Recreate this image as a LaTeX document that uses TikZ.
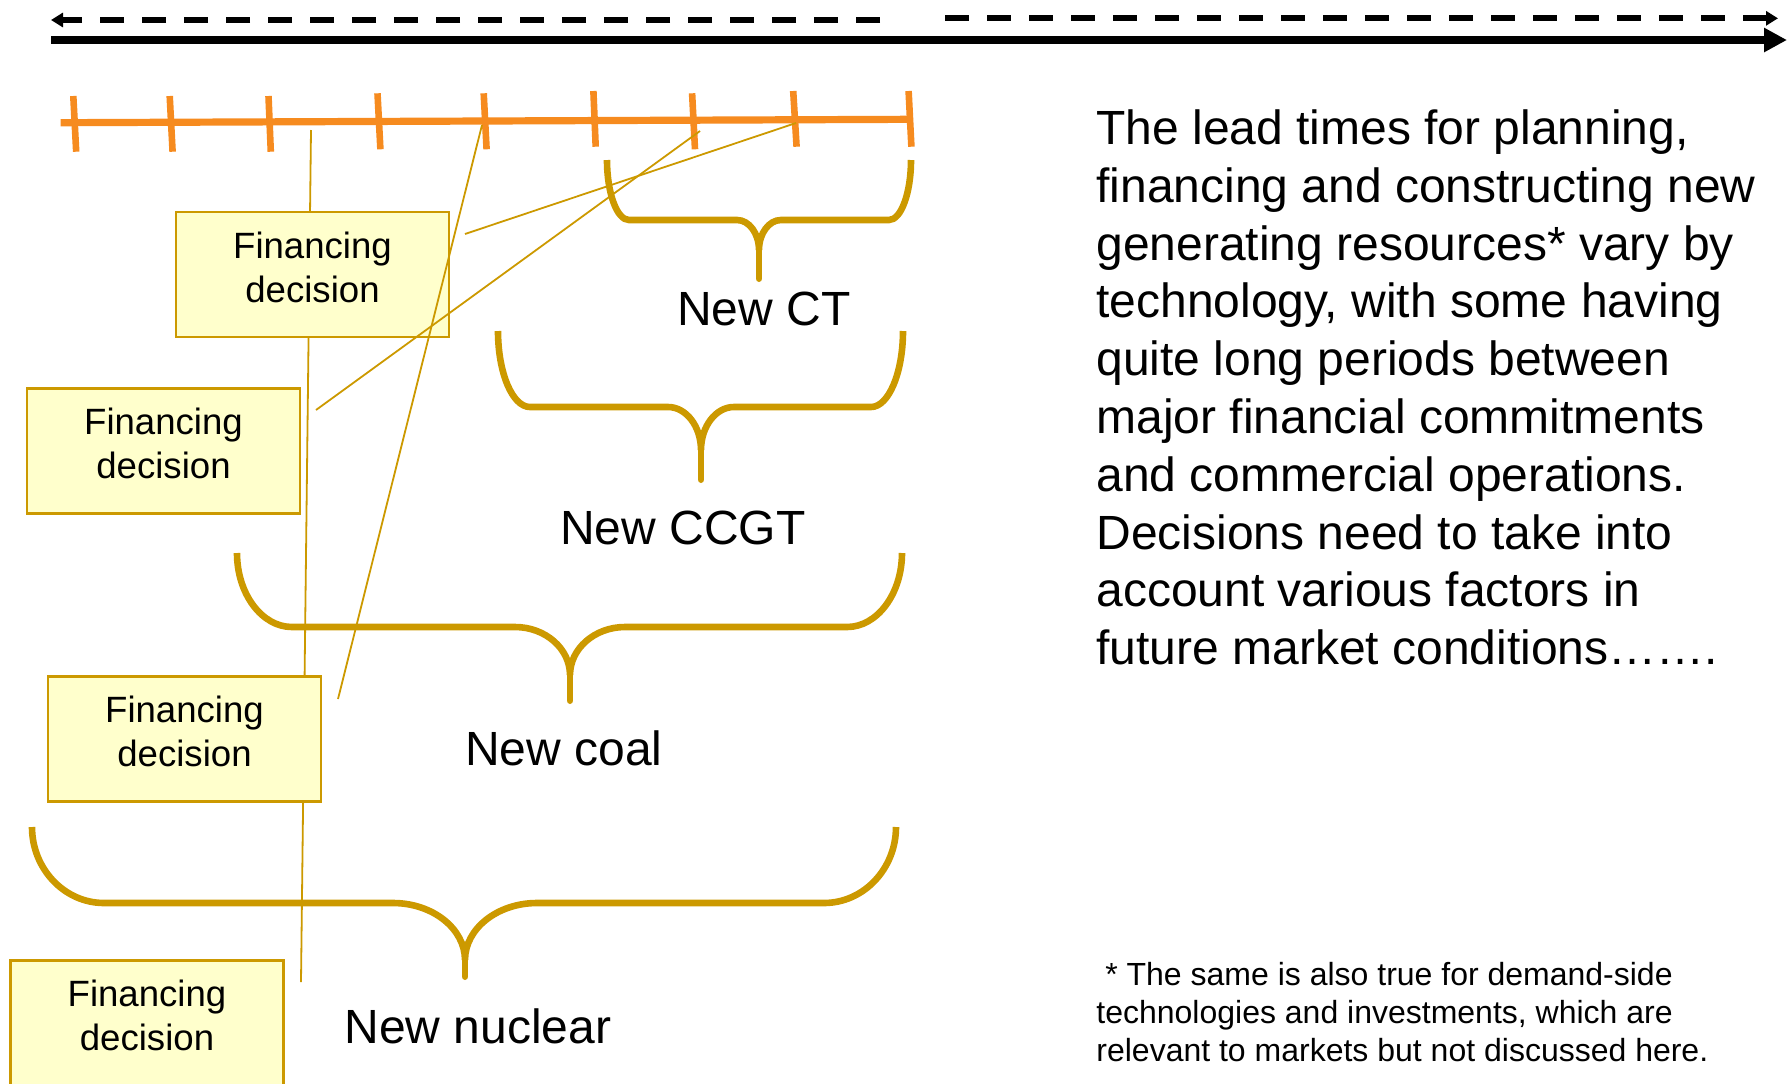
\documentclass[tikz,border=0pt]{standalone}
\usepackage{fontspec}
\setmainfont{Liberation Sans}
\usetikzlibrary{arrows.meta}

\definecolor{tickorange}{HTML}{F68B1F}
\definecolor{gold}{HTML}{CC9900}
\definecolor{paleyellow}{HTML}{FFFFCC}

\tikzset{
  decisionbox/.style={draw=gold, line width=1.3pt, fill=paleyellow,
    minimum width=136.5pt, minimum height=62.5pt, inner sep=0pt,
    align=center, font=\fontsize{18.3pt}{22pt}\selectfont},
  link/.style={draw=gold, line width=0.9pt},
  bracket/.style={draw=gold, line width=3.3pt},
  techlabel/.style={font=\fontsize{24pt}{28.8pt}\selectfont, anchor=base, inner sep=0pt},
  bodytext/.style={font=\fontsize{24pt}{28.9pt}\selectfont, anchor=base west, inner sep=0pt},
  notetext/.style={font=\fontsize{16pt}{19pt}\selectfont, anchor=base west, inner sep=0pt},
  tickmark/.style={draw=tickorange, line width=3.3pt},
  timeaxis/.style={draw=tickorange, line width=3.6pt},
  dasharrow/.style={draw=black, line width=3pt, dash pattern=on 12pt off 9pt,
    -{Triangle[length=6pt,width=7pt]}},
  mainarrow/.style={draw=black, line width=4.2pt,
    -{Triangle[length=11.5pt,width=11.5pt]}},
}

% curly bracket: #1 left x, #2 right x, #3 top y, #4 bar y, #5 tip x,
% #6 cusp y, #7 tip y, #8 corner width, #9 cusp half width
\newcommand{\goldbrace}[9]{%
  \draw[bracket, line cap=butt]
    (#1,#3) .. controls (#1,{#3+0.55*(#4-#3)}) and ({#1+0.45*#8},#4) .. ({#1+#8},#4)
    -- ({#5-#9},#4) .. controls ({#5-0.45*#9},#4) and (#5,{#6-0.55*(#6-#4)}) .. (#5,#6)
    .. controls (#5,{#6-0.55*(#6-#4)}) and ({#5+0.45*#9},#4) .. ({#5+#9},#4)
    -- ({#2-#8},#4) .. controls ({#2-0.45*#8},#4) and (#2,{#3+0.55*(#4-#3)}) .. (#2,#3);
  \draw[bracket, line cap=round] (#5,{#6-2}) -- (#5,{#7-3.3});
}

\begin{document}
\begin{tikzpicture}[x=0.5pt, y=-0.5pt]
  \useasboundingbox (0,0) rectangle (1790,1083);
  \clip (0,0) rectangle (1790,1083);

  % time arrows along the top
  \coordinate (pastR) at (880,20);
  \coordinate (pastL) at (51,20);
  \coordinate (futL) at (945,18.3);
  \coordinate (futR) at (1778,18.3);
  \coordinate (axisL) at (51,40);
  \coordinate (axisR) at (1787,40);
  \draw[dasharrow] (pastR) -- (pastL);
  \draw[dasharrow] (futL) -- (futR);
  \draw[mainarrow] (axisL) -- (axisR);

  % orange year scale
  \draw[timeaxis] (60.7,122.7) -- (911,119.3);
  \foreach \xa/\ya/\xb/\yb in {73.3/96/76.2/151.7, 169.7/96/172.6/151.7,
      268.5/96/270.8/151.7, 377.5/93.3/380.4/149.3, 483.7/93.3/486.6/149.3,
      593.4/91/595.7/146.7, 692.1/93.3/695/149.3, 793.2/91/796.6/146.7,
      908.6/91/911.4/146.7}
    \draw[tickmark] (\xa,\ya) -- (\xb,\yb);

  % points on the scale where each decision is taken
  \coordinate (t1) at (311,130);
  \coordinate (t2) at (482,125);
  \coordinate (t3) at (700,131);
  \coordinate (t4) at (796,123);
  \coordinate (e1) at (301,982);
  \coordinate (e2) at (338,699);
  \coordinate (e3) at (316,410);
  \coordinate (e4) at (465,234);

  % lead-time brackets
  \goldbrace{607}{911}{160}{220}{759}{250}{282}{22}{22}
  \goldbrace{498}{903}{331}{407}{701}{450}{483}{32}{33}
  \goldbrace{237}{902}{553}{627}{570}{675}{704}{55}{55}
  \goldbrace{32}{896}{827}{903}{465}{960}{980}{72}{72}

  \node[techlabel] (ct) at (764,325.5) {New CT};
  \node[techlabel] (ccgt) at (683,544.5) {New CCGT};
  \node[techlabel] (coal) at (564,765.5) {New coal};
  \node[techlabel] (nuclear) at (478,1043.5) {New nuclear};

  % nuclear link runs behind the boxes
  \draw[link] (t1) -- (e1);

  \node[decisionbox] (fd1) at (312.5,274.5) {Financing\\decision\rule[-7.4pt]{0pt}{0pt}};
  \node[decisionbox] (fd2) at (163.5,451) {Financing\\decision\rule[-7.4pt]{0pt}{0pt}};
  \node[decisionbox] (fd3) at (184.5,739) {Financing\\decision\rule[-7.4pt]{0pt}{0pt}};
  \node[decisionbox] (fd4) at (147,1023) {Financing\\decision\rule[-7.4pt]{0pt}{0pt}};

  \draw[link] (t2) -- (e2);
  \draw[link] (t3) -- (e3);
  \draw[link] (t4) -- (e4);

  % explanatory text
  \foreach \line [count=\i from 0] in {
      {The lead times for planning,},
      {financing and constructing new},
      {generating resources* vary by},
      {technology, with some having},
      {quite long periods between},
      {major financial commitments},
      {and commercial operations.},
      {Decisions need to take into},
      {account various factors in},
      {future market conditions…….}}
    \node[bodytext] (body\i) at (1096,{144.5+57.8*\i}) {\line};

  \foreach \line [count=\i from 0] in {
      {~* The same is also true for demand-side},
      {technologies and investments, which are},
      {relevant to markets but not discussed here.}}
    \node[notetext] (note\i) at (1096,{985+38*\i}) {\line};
\end{tikzpicture}
\end{document}
